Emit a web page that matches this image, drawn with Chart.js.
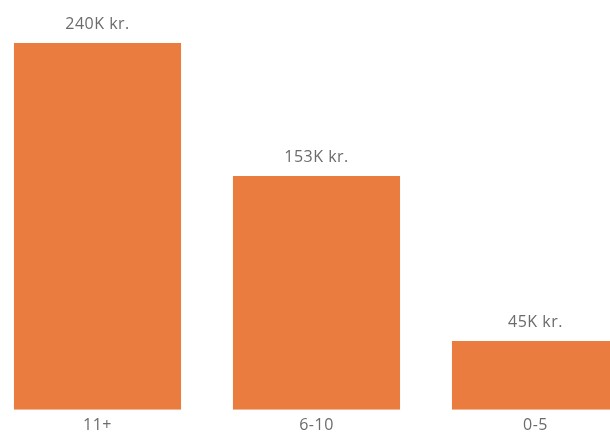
<!DOCTYPE html>
<html>
<head>
<meta charset="utf-8">
<script src="https://cdn.jsdelivr.net/npm/chart.js@4"></script>
<style>
  html, body { margin: 0; padding: 0; background: #fff; overflow: hidden; }
  #wrap { position: absolute; left: -12px; top: 0; width: 657px; height: 436px; }
</style>
</head>
<body>
<div id="wrap"><canvas id="barChart"></canvas></div>
<script>
// data
var categories = ['11+', '6-10', '0-5'];
var values = [240, 153, 45];
var valueLabels = ['240K kr.', '153K kr.', '45K kr.'];

var FONT = '"Open Sans", "Noto Sans", sans-serif';

// slightly wider text, like the original
var spacing = {
    id: 'spacing',
    beforeDraw: function (chart) {
        chart.ctx.letterSpacing = '0.5px';
    }
};

// labels above each bar, placed from the bar elements
var topLabels = {
    id: 'topLabels',
    afterDatasetsDraw: function (chart) {
        var ctx = chart.ctx;
        var meta = chart.getDatasetMeta(0);
        ctx.save();
        ctx.font = '16px ' + FONT;
        ctx.fillStyle = '#6b6b6b';
        ctx.textAlign = 'center';
        ctx.textBaseline = 'alphabetic';
        meta.data.forEach(function (bar, i) {
            ctx.fillText(valueLabels[i], bar.x, bar.y - 14);
        });
        ctx.restore();
    }
};

var ctx = document.getElementById('barChart');
var barChart = new Chart(ctx, {
    type: 'bar',
    data: {
        labels: categories,
        datasets: [{
            data: values,
            backgroundColor: '#E97C3E',
            borderWidth: 0,
            barPercentage: 0.763,
            categoryPercentage: 1
        }]
    },
    options: {
        responsive: true,
        maintainAspectRatio: false,
        animation: false,
        layout: { padding: { top: 43, bottom: 3, left: 0, right: 0 } },
        plugins: { legend: { display: false }, tooltip: { enabled: false } },
        scales: {
            x: {
                grid: { display: false },
                border: { display: false },
                ticks: { color: '#6b6b6b', font: { family: FONT, size: 16 }, padding: -2 }
            },
            y: {
                display: false,
                min: 0,
                max: 240
            }
        }
    },
    plugins: [spacing, topLabels]
});
</script>
</body>
</html>
